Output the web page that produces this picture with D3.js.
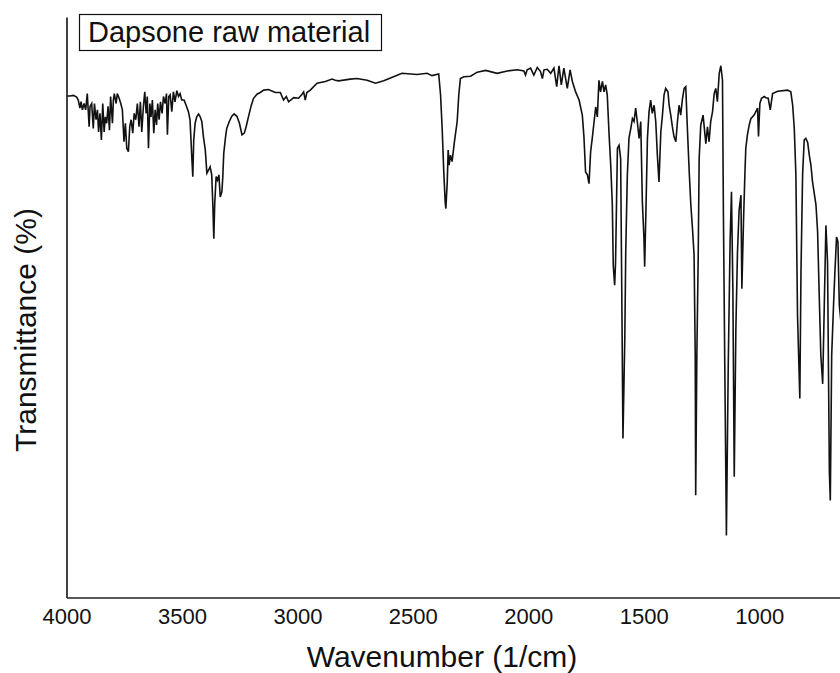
<!DOCTYPE html>
<html>
<head>
<meta charset="utf-8">
<script src="https://cdn.jsdelivr.net/npm/d3@7"></script>
<style>
  html, body { margin: 0; padding: 0; background: #fff; }
  svg { display: block; }
  text { font-family: "Liberation Sans", Arial, sans-serif; fill: #111; }
</style>
</head>
<body>
<svg id="chart" width="840" height="673"></svg>
<script>
// FTIR spectrum of dapsone raw material: wavenumber (1/cm) vs transmittance (%)
const wavenumber = [
  3999, 3985, 3970, 3956, 3949, 3942, 3937, 3931, 3924, 3917, 3910, 3902, 3898, 3891, 3884, 3879,
  3872, 3866, 3861, 3855, 3849, 3843, 3837, 3832, 3826, 3820, 3814, 3809, 3801, 3797, 3793, 3785,
  3780, 3772, 3765, 3758, 3751, 3745, 3739, 3732, 3726, 3720, 3713, 3707, 3700, 3693, 3686, 3680,
  3674, 3667, 3661, 3655, 3650, 3645, 3639, 3634, 3628, 3622, 3616, 3610, 3605, 3599, 3593, 3586,
  3580, 3573, 3567, 3563, 3557, 3551, 3544, 3537, 3530, 3522, 3515, 3508, 3501, 3491, 3482, 3472,
  3465, 3457, 3453, 3449, 3443, 3436, 3428, 3421, 3414, 3407, 3399, 3392, 3385, 3378, 3371, 3366,
  3362, 3358, 3352, 3346, 3340, 3334, 3327, 3323, 3319, 3311, 3306, 3295, 3284, 3274, 3262, 3251,
  3240, 3230, 3222, 3212, 3201, 3190, 3175, 3161, 3146, 3125, 3096, 3074, 3060, 3048, 3038, 3016,
  2995, 2980, 2973, 2966, 2959, 2944, 2915, 2879, 2850, 2836, 2821, 2771, 2742, 2698, 2662, 2626,
  2597, 2547, 2482, 2438, 2417, 2388, 2380, 2373, 2366, 2360, 2357, 2351, 2347, 2343, 2337, 2330,
  2320, 2308, 2301, 2294, 2279, 2250, 2221, 2185, 2135, 2091, 2048, 2019, 2012, 2005, 1990, 1976,
  1961, 1947, 1939, 1932, 1918, 1903, 1889, 1877, 1867, 1857, 1846, 1831, 1819, 1809, 1795, 1780,
  1766, 1759, 1752, 1744, 1737, 1730, 1723, 1715, 1708, 1701, 1694, 1687, 1679, 1672, 1665, 1658,
  1650, 1643, 1636, 1632, 1626, 1622, 1614, 1607, 1600, 1595, 1590, 1582, 1578, 1571, 1564, 1556,
  1549, 1542, 1535, 1528, 1520, 1513, 1506, 1499, 1496, 1490, 1484, 1477, 1470, 1463, 1455, 1448,
  1441, 1434, 1426, 1419, 1412, 1405, 1395, 1390, 1383, 1376, 1369, 1361, 1354, 1347, 1340, 1332,
  1325, 1318, 1311, 1303, 1296, 1289, 1282, 1277, 1275, 1270, 1264, 1260, 1253, 1243, 1236, 1231,
  1224, 1217, 1210, 1202, 1195, 1188, 1181, 1173, 1166, 1159, 1155, 1149, 1142, 1134, 1126, 1120,
  1114, 1108, 1101, 1094, 1087, 1079, 1075, 1068, 1062, 1058, 1051, 1043, 1036, 1022, 1007, 1003,
  997, 990, 978, 971, 961, 952, 942, 920, 877, 863, 855, 848, 841, 834, 824, 819,
  812, 805, 798, 790, 783, 776, 769, 754, 747, 740, 733, 725, 718, 711, 704, 696,
  692, 686, 678, 672, 665, 659, 653, 646
];

const transmittance = [
  86.4, 86.4, 86.5, 86.2, 85.7, 84.3, 85.4, 84.0, 85.1, 84.0, 86.8, 81.1, 84.6, 85.1, 80.8, 85.1,
  82.3, 84.0, 80.2, 83.4, 78.8, 85.1, 80.2, 82.8, 81.7, 84.6, 80.5, 86.3, 81.7, 85.7, 86.8, 85.1,
  86.8, 86.0, 85.1, 84.0, 78.5, 81.7, 77.4, 76.8, 81.1, 82.3, 80.0, 83.4, 82.3, 85.1, 81.1, 85.4,
  80.2, 84.6, 87.1, 83.4, 86.3, 77.4, 85.1, 82.8, 85.7, 80.0, 84.0, 81.4, 85.1, 82.3, 85.4, 83.4,
  86.3, 85.1, 86.8, 79.7, 86.3, 86.6, 83.7, 87.1, 85.4, 87.3, 86.3, 86.8, 85.7, 85.7, 84.8, 83.7,
  82.3, 75.6, 72.5, 78.8, 81.7, 82.8, 83.3, 82.8, 82.0, 79.4, 77.1, 73.1, 73.6, 74.2, 72.8, 67.3,
  61.8, 67.9, 72.5, 71.9, 72.8, 69.0, 69.9, 72.5, 76.5, 79.4, 80.8, 82.0, 82.9, 83.3, 82.9, 81.7,
  79.7, 80.0, 81.1, 82.8, 84.6, 86.0, 86.7, 87.0, 87.4, 87.5, 87.0, 87.0, 85.7, 86.3, 85.4, 86.1,
  86.0, 86.7, 87.1, 85.7, 87.0, 87.4, 88.6, 88.9, 89.3, 89.1, 89.0, 89.3, 89.4, 89.1, 88.6, 89.0,
  89.5, 90.3, 90.1, 90.3, 89.9, 90.2, 86.6, 80.8, 73.3, 68.2, 67.0, 71.6, 77.1, 74.5, 76.2, 75.1,
  78.5, 82.0, 86.6, 89.4, 89.7, 89.8, 90.5, 90.8, 90.3, 90.7, 90.9, 90.7, 90.0, 90.9, 91.2, 90.0,
  91.3, 90.6, 89.4, 90.9, 91.0, 90.3, 91.2, 88.0, 91.6, 88.3, 91.2, 87.7, 90.9, 88.9, 87.1, 85.7,
  83.1, 79.4, 73.3, 72.8, 71.3, 76.8, 79.1, 82.0, 84.5, 82.8, 89.1, 87.1, 88.9, 87.1, 88.3, 86.6,
  79.7, 74.5, 67.6, 57.2, 53.8, 57.8, 77.4, 77.9, 75.6, 52.1, 27.4, 44.6, 59.5, 72.8, 79.1, 80.8,
  82.5, 82.0, 84.3, 82.0, 79.1, 82.0, 68.2, 61.8, 57.0, 67.6, 79.1, 83.7, 85.7, 83.4, 84.8, 82.0,
  76.2, 71.6, 80.2, 83.1, 86.6, 87.7, 87.1, 84.8, 83.1, 81.1, 79.4, 78.5, 82.0, 84.8, 83.1, 86.0,
  87.7, 88.0, 80.8, 73.3, 67.6, 63.6, 59.0, 41.7, 17.6, 41.7, 59.0, 75.6, 81.4, 83.1, 80.2, 78.2,
  81.1, 78.5, 82.0, 83.7, 86.8, 87.7, 85.4, 90.3, 91.6, 89.1, 66.4, 40.0, 10.7, 40.0, 61.3, 69.9,
  53.2, 20.8, 46.3, 59.5, 66.7, 69.3, 53.2, 64.7, 72.8, 77.4, 79.7, 81.4, 82.5, 83.1, 84.3, 79.4,
  85.1, 86.0, 86.3, 86.1, 86.0, 84.0, 86.8, 87.2, 87.4, 87.1, 84.8, 80.8, 72.8, 48.6, 34.3, 56.1,
  72.8, 78.8, 79.1, 78.4, 76.2, 74.5, 71.6, 67.6, 63.0, 52.1, 41.7, 36.8, 50.4, 64.1, 57.8, 21.6,
  16.7, 41.7, 50.4, 56.1, 62.1, 61.3, 50.4, 47.5
];

const xTicks = [4000, 3500, 3000, 2500, 2000, 1500, 1000];
const xDomain = [4000, 650];
const yDomain = [0, 100];

const sampleName = "Dapsone raw material";
const xTitle = "Wavenumber (1/cm)";
const yTitle = "Transmittance (%)";

const svg = d3.select("#chart");
const W = 840, H = 673;
const plot = { left: 66.5, right: 840, top: 17, bottom: 597.5 };

const x = d3.scaleLinear().domain(xDomain).range([plot.left, plot.right]);
const y = d3.scaleLinear().domain(yDomain).range([plot.bottom, plot.top]);

svg.append("rect").attr("width", W).attr("height", H).attr("fill", "#fff");

// spectrum trace
const spectrum = wavenumber.map((w, i) => ({ w, t: transmittance[i] }));
const line = d3.line().x(d => x(d.w)).y(d => y(d.t));

svg.append("path")
  .datum(spectrum)
  .attr("d", line)
  .attr("fill", "none")
  .attr("stroke", "#111")
  .attr("stroke-width", 1.6)
  .attr("stroke-linejoin", "miter");

// bottom axis: line and labels only, no tick marks
const xAxis = d3.axisBottom(x)
  .tickValues(xTicks)
  .tickSize(0)
  .tickSizeOuter(0)
  .tickPadding(11)
  .tickFormat(d3.format("d"));

const gx = svg.append("g")
  .attr("transform", `translate(0,${plot.bottom})`)
  .call(xAxis);
gx.select(".domain").attr("stroke", "#222").attr("stroke-width", 1.7);
gx.selectAll("text")
  .attr("font-size", 22)
  .attr("font-family", "Liberation Sans, Arial, sans-serif")
  .attr("fill", "#111");

// left axis: bare line
const yAxis = d3.axisLeft(y).tickValues([]).tickSizeOuter(0);
const gy = svg.append("g")
  .attr("transform", `translate(${plot.left},0)`)
  .call(yAxis);
gy.select(".domain").attr("stroke", "#222").attr("stroke-width", 1.7);

// axis titles
svg.append("text")
  .attr("x", 442)
  .attr("y", 667)
  .attr("text-anchor", "middle")
  .attr("font-size", 30)
  .text(xTitle);

svg.append("text")
  .attr("transform", `translate(36,330) rotate(-90)`)
  .attr("text-anchor", "middle")
  .attr("font-size", 30)
  .text(yTitle);

// sample label box
const lg = svg.append("g");
lg.append("rect")
  .attr("x", 79.5).attr("y", 14.5)
  .attr("width", 302).attr("height", 36)
  .attr("fill", "#fff")
  .attr("stroke", "#111")
  .attr("stroke-width", 1.2);
lg.append("text")
  .attr("x", 88)
  .attr("y", 42)
  .attr("font-size", 29)
  .text(sampleName);
</script>
</body>
</html>
